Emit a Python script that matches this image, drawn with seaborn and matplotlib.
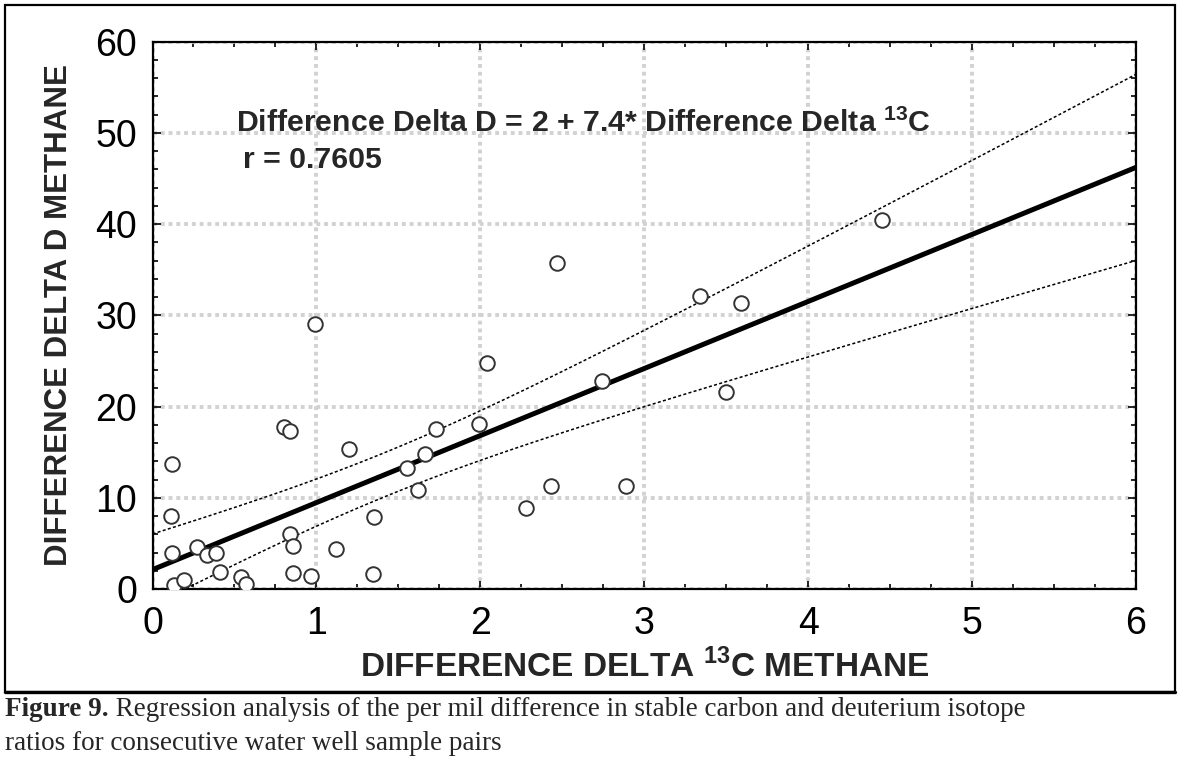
import numpy as np
import pandas as pd
import matplotlib
matplotlib.use('Agg')
import matplotlib.pyplot as plt
import seaborn as sns
from matplotlib.ticker import MultipleLocator


# per mil differences for consecutive water well sample pairs
d13c_diff = [0.12, 0.11, 0.12, 0.13, 0.19, 0.27, 0.33, 0.39, 0.41, 0.54, 0.57,
             0.80, 0.84, 0.84, 0.86, 0.86, 0.97, 0.99, 1.12, 1.20, 1.35, 1.345,
             1.55, 1.62, 1.66, 1.73, 1.99, 2.04, 2.28, 2.43, 2.47, 2.74, 2.89,
             3.34, 3.50, 3.59, 4.45]
dD_diff = [13.7, 8.0, 3.9, 0.4, 1.0, 4.6, 3.7, 3.9, 1.9, 1.35, 0.6,
           17.8, 17.3, 6.0, 4.7, 1.8, 1.4, 29.1, 4.35, 15.3, 7.9, 1.6,
           13.3, 10.9, 14.8, 17.5, 18.1, 24.8, 8.9, 11.3, 35.75, 22.8, 11.3,
           32.1, 21.6, 31.4, 40.5]

x_ticks = [0, 1, 2, 3, 4, 5, 6]
y_ticks = [0, 10, 20, 30, 40, 50, 60]

eq_text = r'Difference Delta D = 2 + 7.4* Difference Delta $^{\mathbf{13}}$C'
r_text = 'r = 0.7605'
caption_bold = 'Figure 9.'
caption_line1 = ' Regression analysis of the per mil difference in stable carbon and deuterium isotope'
caption_line2 = 'ratios for consecutive water well sample pairs'

df = pd.DataFrame({'d13C': d13c_diff, 'dD': dD_diff})

sns.set_style('ticks')
plt.rcParams['font.family'] = ['Liberation Sans', 'DejaVu Sans']
plt.rcParams['mathtext.fontset'] = 'custom'
plt.rcParams['mathtext.rm'] = 'Liberation Sans'
plt.rcParams['mathtext.bf'] = 'Liberation Sans:bold'

fig = plt.figure(figsize=(11.8, 7.8), dpi=100)
ax = fig.add_axes([152.5 / 1180, 1 - 589 / 780, (1136 - 152.5) / 1180, (589 - 41.7) / 780])

ax.set_xlim(0, 6)
ax.set_ylim(0, 60)

# points
sns.scatterplot(data=df, x='d13C', y='dD', ax=ax, s=110, marker='o',
                facecolor='white', edgecolor='#333333', linewidth=1.4, zorder=4)

# fitted line
sns.regplot(data=df, x='d13C', y='dD', ax=ax, scatter=False, ci=None,
            truncate=False, line_kws=dict(color='black', lw=3.6, zorder=3))

# 95% confidence band of the fit
slope, icpt = np.polyfit(df['d13C'], df['dD'], 1)
n = len(df)
resid = df['dD'] - (icpt + slope * df['d13C'])
s = np.sqrt((resid ** 2).sum() / (n - 2))
sxx = ((df['d13C'] - df['d13C'].mean()) ** 2).sum()
grid = np.linspace(0, 6, 120)
half = 2.03 * s * np.sqrt(1 / n + (grid - df['d13C'].mean()) ** 2 / sxx)
fit = icpt + slope * grid
ax.plot(grid, fit + half, color='black', lw=1.1, linestyle=(0, (2, 1.5)), zorder=3)
ax.plot(grid, fit - half, color='black', lw=1.1, linestyle=(0, (2, 1.5)), zorder=3)

ax.set_xticks(x_ticks)
ax.set_yticks(y_ticks)
ax.xaxis.set_minor_locator(MultipleLocator(0.25))
ax.yaxis.set_minor_locator(MultipleLocator(2))
ax.tick_params(which='both', direction='in', top=True, right=True,
               labeltop=False, labelright=False, width=1.2, color='black')
ax.tick_params(which='major', length=6, labelsize=27, labelcolor='black')
ax.tick_params(which='minor', length=3.5)
ax.tick_params(axis='x', which='major', pad=12)
ax.tick_params(axis='y', which='major', pad=11)
for sp in ax.spines.values():
    sp.set_linewidth(1.6)
    sp.set_color('black')

ax.grid(True, which='major', color='#d2d2d2', linestyle=(0, (1, 1)), linewidth=2.8)
ax.set_axisbelow(True)

ax.set_xlabel(r'DIFFERENCE DELTA $^{\mathbf{13}}$C METHANE', fontsize=24, fontweight='bold')
ax.set_ylabel('DIFFERENCE DELTA D METHANE', fontsize=22.5, fontweight='bold')
ax.xaxis.set_label_coords(0.5, -0.11)
ax.yaxis.set_label_coords(-0.08, 0.5)

ax.text(236 / 1180, 1 - 132 / 780, eq_text, transform=fig.transFigure,
        fontsize=21.8, fontweight='bold', va='baseline', ha='left')
ax.text(243 / 1180, 1 - 168 / 780, r_text, transform=fig.transFigure,
        fontsize=21.8, fontweight='bold', va='baseline', ha='left')

# frame around the chart
fig.add_artist(plt.Rectangle((5 / 1180, 1 - 692 / 780), 1170 / 1180, 687 / 780,
                             transform=fig.transFigure, fill=False,
                             edgecolor='black', linewidth=1.6))
fig.add_artist(plt.Line2D([5 / 1180, 1175 / 1180], [1 - 692 / 780, 1 - 692 / 780],
                          transform=fig.transFigure, color='black', linewidth=2.4))

# caption
t1 = fig.text(5 / 1180, 1 - 716 / 780, caption_bold, family=['Liberation Serif'],
              fontsize=19.5, fontweight='bold', va='baseline', ha='left')
ax.annotate(caption_line1, xy=(1, 0), xycoords=t1, xytext=(0, 0),
            textcoords='offset points', va='bottom', ha='left',
            family=['Liberation Serif'], fontsize=19.5, annotation_clip=False)
fig.text(5 / 1180, 1 - 750 / 780, caption_line2, family=['Liberation Serif'],
         fontsize=19.5, va='baseline', ha='left')

fig.savefig('out.png', dpi=100, facecolor='white')
